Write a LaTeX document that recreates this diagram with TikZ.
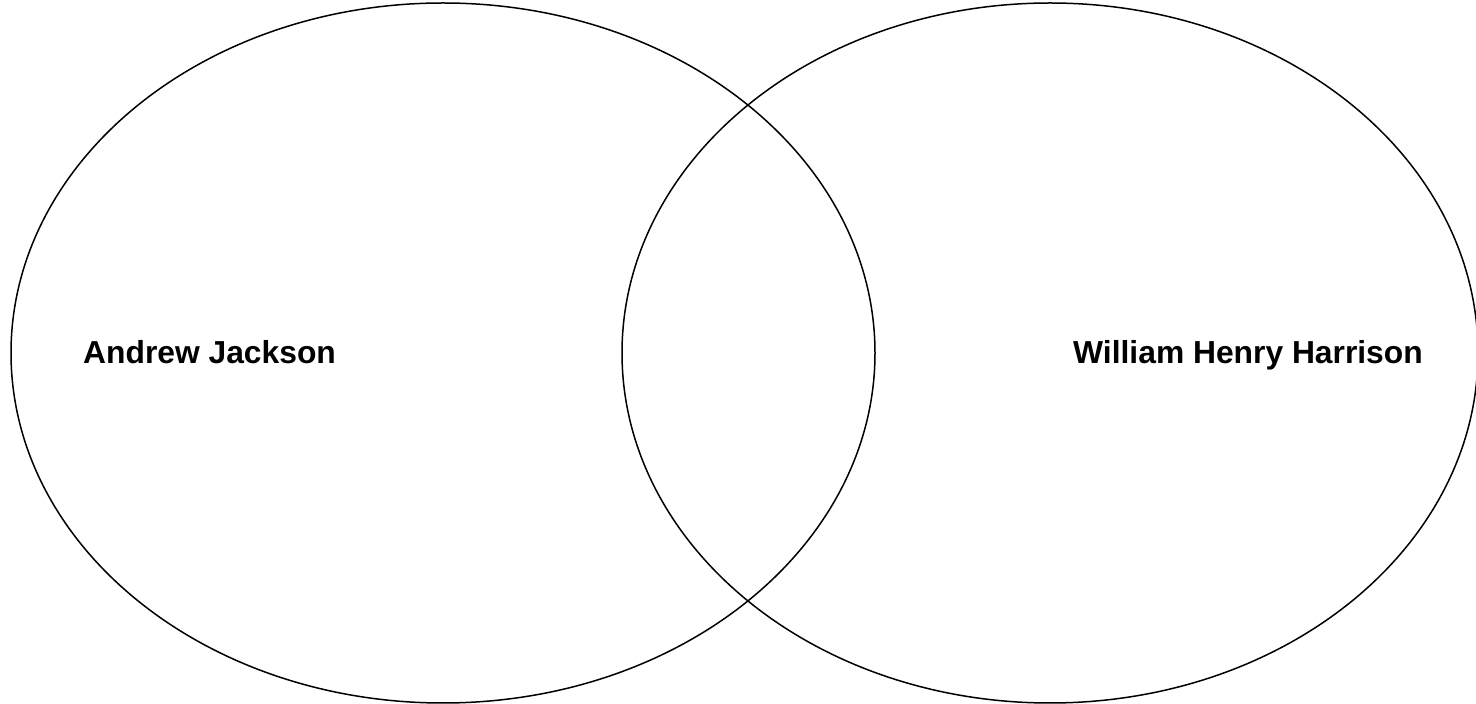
\documentclass[tikz,border=0pt]{standalone}
\usepackage{fontspec}
\setmainfont{Liberation Sans}
\tikzset{
  venn/.style={draw=black, line width=1.5pt},
  lbl/.style={font=\fontsize{31.8}{36}\selectfont\bfseries, inner sep=0pt, anchor=base west}
}
\begin{document}
\begin{tikzpicture}[x=1pt,y=1pt]
\useasboundingbox (0,0) rectangle (1476,704);
\clip (0,0) rectangle (1476,704);
\fill[white] (0,0) rectangle (1476,704);
\draw[venn] (443,351) ellipse [x radius=432, y radius=350];
\draw[venn] (1050,351) ellipse [x radius=428, y radius=350];
\node[lbl] (aj) at (83,340) {Andrew Jackson};
\node[lbl] (whh) at (1073,340) {William Henry Harrison};
\end{tikzpicture}
\end{document}
